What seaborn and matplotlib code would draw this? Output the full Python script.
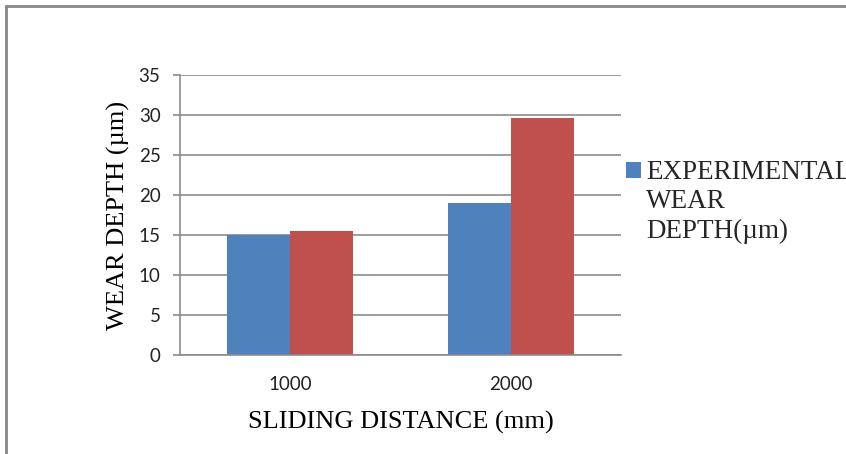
import matplotlib
matplotlib.use("Agg")
import matplotlib.pyplot as plt
import seaborn as sns
import pandas as pd
from matplotlib.lines import Line2D
from matplotlib.patches import Patch, Rectangle
from matplotlib.legend_handler import HandlerPatch

categories = ["1000", "2000"]
experimental = [15.0, 19.0]
predicted = [15.5, 29.6]
series_names = ["EXPERIMENTAL\nWEAR\nDEPTH(\u00b5m)", "PREDICTED WEAR DEPTH(\u00b5m)"]
yticks = [0, 5, 10, 15, 20, 25, 30, 35]

df = pd.DataFrame({
    "distance": categories * 2,
    "depth": experimental + predicted,
    "series": [series_names[0]] * 2 + [series_names[1]] * 2,
})

sns.set_theme(style="white")
plt.rcParams["font.family"] = ["Lato", "DejaVu Sans"]

fig = plt.figure(figsize=(8.46, 4.54), dpi=100)
ax = fig.add_axes([180 / 846, 1 - 355 / 454, (621 - 180) / 846, (355 - 75) / 454])

colors = ["#4F81BD", "#C0504D"]
sns.barplot(data=df, x="distance", y="depth", hue="series", order=categories,
            hue_order=series_names, palette=colors, width=0.57, ax=ax,
            edgecolor="none", saturation=1, legend=False)

ax.set_xlim(-0.5, 1.5)
ax.set_ylim(0, 35)
ax.set_yticks(yticks)
ax.set_yticklabels([str(v) for v in yticks], fontsize=13.5, color="#222222")
ax.set_xticks([0, 1])
ax.set_xticklabels(categories, fontsize=13.5, color="#222222")
ax.set_xticks([-0.5, 0.5, 1.5], minor=True)
ax.tick_params(axis="x", which="major", length=0, pad=15)
ax.tick_params(axis="x", which="minor", length=5, width=1.2, color="#8c8c8c", direction="out")
ax.tick_params(axis="y", length=5, width=1.2, color="#8c8c8c", direction="out", pad=9, left=True)

ax.yaxis.grid(True, color="#8c8c8c", linewidth=1.2)
ax.set_axisbelow(True)
for s in ["top", "right"]:
    ax.spines[s].set_visible(False)
for s in ["left", "bottom"]:
    ax.spines[s].set_color("#8c8c8c")
    ax.spines[s].set_linewidth(1.2)

ax.set_xlabel("SLIDING DISTANCE (mm)", fontsize=19, family="Liberation Serif",
              color="black", labelpad=13)
ax.set_ylabel("WEAR DEPTH (\u00b5m)", fontsize=19, family="Liberation Serif",
              color="black", labelpad=6)


def top_patch(legend, orig_handle, xdescent, ydescent, width, height, fontsize):
    return Rectangle((-xdescent, -ydescent + 1.18 * fontsize), width, height)


handles = [Patch(facecolor=colors[0], edgecolor="none")]
leg = fig.legend(handles, [series_names[0]], loc="upper left",
                 bbox_to_anchor=(626 / 846, 1 - 160 / 454), frameon=False,
                 prop={"family": "Liberation Serif", "size": 19.5},
                 handlelength=0.55, handleheight=0.55, handletextpad=0.2,
                 borderaxespad=0, borderpad=0,
                 handler_map={Patch: HandlerPatch(patch_func=top_patch)})
for t in leg.get_texts():
    t.set_linespacing(1.22)

# outer chart border (top and left visible)
fig.add_artist(Line2D([5.5 / 846, 5.5 / 846], [0, 1 - 6 / 454],
                      transform=fig.transFigure, color="#888888", linewidth=2))
fig.add_artist(Line2D([5.5 / 846, 1], [1 - 6 / 454, 1 - 6 / 454],
                      transform=fig.transFigure, color="#888888", linewidth=2))

fig.savefig("out.png", dpi=100, facecolor="white")
